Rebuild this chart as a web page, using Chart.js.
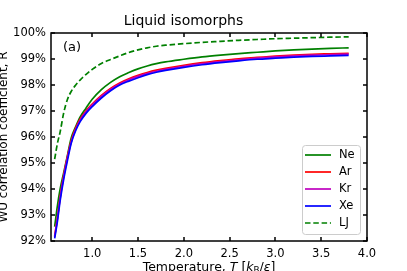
<!DOCTYPE html>
<html><head><meta charset="utf-8">
<script src="https://cdn.jsdelivr.net/npm/chart.js@4"></script>
<style>html,body{margin:0;padding:0;background:#fff;overflow:hidden}</style>
</head><body>
<canvas id="c" width="407" height="271"></canvas>
<script>
const temperatures = [0.59,0.62,0.65,0.69,0.73,0.77,0.82,0.87,0.93,1.0,1.1,1.2,1.3,1.4,1.5,1.6,1.7,1.8,2.0,2.2,2.4,2.6,2.8,3.0,3.2,3.4,3.6,3.8];
const neValues = [92.55,93.35,94.0,94.65,95.3,95.95,96.4,96.78,97.1,97.45,97.82,98.1,98.32,98.48,98.62,98.73,98.82,98.89,98.99,99.08,99.15,99.21,99.26,99.31,99.35,99.38,99.41,99.43];
const arValues = [92.2,92.9,93.7,94.55,95.25,95.85,96.35,96.7,97.0,97.27,97.6,97.87,98.08,98.24,98.37,98.48,98.57,98.64,98.76,98.86,98.94,99.01,99.06,99.11,99.15,99.18,99.2,99.22];
const krValues = [92.15,92.85,93.65,94.5,95.2,95.8,96.3,96.66,96.96,97.23,97.56,97.83,98.04,98.2,98.33,98.44,98.53,98.6,98.72,98.82,98.9,98.97,99.03,99.08,99.12,99.15,99.17,99.19];
const xeValues = [92.1,92.75,93.55,94.4,95.1,95.75,96.25,96.6,96.9,97.17,97.5,97.78,98.0,98.15,98.28,98.4,98.49,98.56,98.68,98.78,98.86,98.93,98.99,99.03,99.07,99.1,99.12,99.14];
const ljValues = [95.15,95.75,96.2,96.95,97.45,97.75,98.0,98.2,98.4,98.6,98.83,98.98,99.12,99.25,99.35,99.43,99.49,99.53,99.59,99.64,99.68,99.72,99.75,99.78,99.8,99.82,99.84,99.85];
const seriesNames = ['Ne','Ar','Kr','Xe','LJ'];
const seriesColors = ['#008000','#ff0000','#bf00bf','#0000ff','#008000'];
const yTickValues = [92,93,94,95,96,97,98,99,100];
const xTickValues = [1.0,1.5,2.0,2.5,3.0,3.5,4.0];
const titleText = 'Liquid isomorphs';
const yAxisTitle = 'WU correlation coefficient, R';
const panelLabel = '(a)';

const FONT = '"DejaVu Sans", sans-serif';
const allValues = [neValues, arValues, krValues, xeValues, ljValues];
const datasets = seriesNames.map((name, i) => ({
  label: name,
  data: temperatures.map((t, j) => ({x: t, y: allValues[i][j]})),
  borderColor: seriesColors[i],
  backgroundColor: seriesColors[i],
  borderWidth: 1.7,
  borderDash: name === 'LJ' ? [5.5, 2.8] : [],
  pointRadius: 0,
  showLine: true,
  cubicInterpolationMode: 'monotone',
  order: seriesNames.length - i
}));

const framePlugin = {
  id: 'mplFrame',
  afterDraw(chart) {
    const {ctx, chartArea: a, scales} = chart;
    ctx.save();
    ctx.strokeStyle = '#000';
    ctx.lineWidth = 1.5;
    const tl = 4;
    ctx.beginPath();
    yTickValues.forEach(v => {
      const y = Math.round(scales.y.getPixelForValue(v));
      ctx.moveTo(a.left, y); ctx.lineTo(a.left + tl, y);
      ctx.moveTo(a.right, y); ctx.lineTo(a.right - tl, y);
    });
    xTickValues.forEach(v => {
      const x = Math.round(scales.x.getPixelForValue(v));
      ctx.moveTo(x, a.bottom); ctx.lineTo(x, a.bottom - tl);
      ctx.moveTo(x, a.top); ctx.lineTo(x, a.top + tl);
    });
    ctx.stroke();
    ctx.strokeRect(a.left, a.top, a.right - a.left, a.bottom - a.top);
    // panel label
    ctx.fillStyle = '#000';
    ctx.font = '13px ' + FONT;
    ctx.textAlign = 'left';
    ctx.textBaseline = 'alphabetic';
    ctx.fillText(panelLabel, a.left + 12, a.top + 18);
    // legend
    const x0 = a.right - 65, y0 = a.bottom - 96, w = 58, h = 89;
    ctx.beginPath();
    if (ctx.roundRect) ctx.roundRect(x0 + 0.5, y0 + 0.5, w, h, 3); else ctx.rect(x0 + 0.5, y0 + 0.5, w, h);
    ctx.fillStyle = 'rgba(255,255,255,0.85)';
    ctx.fill();
    ctx.strokeStyle = '#cccccc';
    ctx.lineWidth = 1;
    ctx.stroke();
    ctx.font = '11.5px ' + FONT;
    ctx.textBaseline = 'middle';
    chart.data.datasets.forEach((ds, i) => {
      const yy = y0 + 10 + i * 17;
      ctx.beginPath();
      ctx.strokeStyle = ds.borderColor;
      ctx.lineWidth = 1.7;
      ctx.setLineDash(ds.borderDash || []);
      ctx.moveTo(x0 + 3, yy); ctx.lineTo(x0 + 29, yy);
      ctx.stroke();
      ctx.setLineDash([]);
      ctx.fillStyle = '#000';
      ctx.fillText(ds.label, x0 + 37, yy + 0.5);
    });
    // x axis title with italic and subscript parts
    const parts = [
      ['Temperature, ', ''], ['T', 'italic '], [' [', ''], ['k', 'italic '], ['B', 'sub'], ['/', ''], ['ε', 'italic '], [']', '']
    ];
    const size = 12.5;
    ctx.textBaseline = 'alphabetic';
    let total = 0;
    const widths = parts.map(([t, s]) => {
      ctx.font = (s === 'sub' ? (size * 0.7) + 'px ' : s + size + 'px ') + FONT;
      const wv = ctx.measureText(t).width; total += wv; return wv;
    });
    let x = (a.left + a.right) / 2 - total / 2;
    const base = 270.5;
    parts.forEach(([t, s], i) => {
      ctx.font = (s === 'sub' ? (size * 0.7) + 'px ' : s + size + 'px ') + FONT;
      ctx.fillText(t, x, s === 'sub' ? base + 2.5 : base);
      x += widths[i];
    });
    ctx.restore();
  }
};

new Chart(document.getElementById('c'), {
  type: 'scatter',
  data: {datasets},
  options: {
    responsive: false,
    animation: false,
    layout: {padding: {left: 0, right: 40, top: 0, bottom: 0}},
    plugins: {
      legend: {display: false},
      tooltip: {enabled: false},
      title: {
        display: true, text: titleText, color: '#000',
        font: {family: FONT, size: 14, weight: 'normal', lineHeight: 1.2},
        padding: {top: 12.8, bottom: 3.4}
      }
    },
    scales: {
      x: {
        type: 'linear', min: 0.55, max: 4.0,
        afterBuildTicks: s => { s.ticks = xTickValues.map(v => ({value: v})); },
        afterFit: s => { s.height = 30; },
        grid: {display: false, drawTicks: false},
        border: {display: false},
        ticks: {color: '#000', padding: 6, font: {family: FONT, size: 11.5}, callback: v => Number(v).toFixed(1), maxRotation: 0, autoSkip: false}
      },
      y: {
        type: 'linear', min: 92, max: 100,
        afterBuildTicks: s => { s.ticks = yTickValues.map(v => ({value: v})); },
        afterFit: s => { s.width = 51; },
        grid: {display: false, drawTicks: false},
        border: {display: false},
        title: {display: true, text: yAxisTitle, color: '#000', padding: 0, font: {family: FONT, size: 12, lineHeight: 0.6}},
        ticks: {color: '#000', padding: 5, font: {family: FONT, size: 11.5}, callback: v => v + '%', autoSkip: false}
      }
    }
  },
  plugins: [framePlugin]
});
</script>
</body></html>
